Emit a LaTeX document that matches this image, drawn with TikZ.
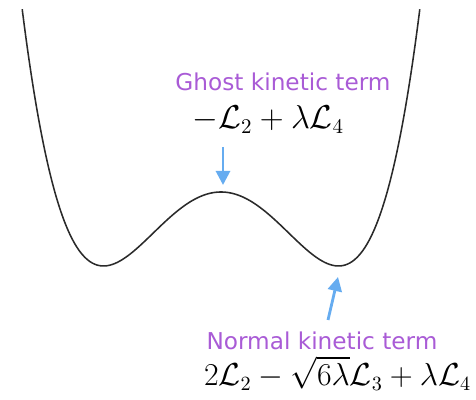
\documentclass[tikz,border=0pt]{standalone}
\usepackage{amsmath}
\usepackage{fontspec}
\setsansfont{DejaVu Sans}
\usetikzlibrary{arrows.meta, positioning}
\definecolor{mPurple}{HTML}{A95BD6}
\definecolor{mSky}{HTML}{66ACF0}
\definecolor{mInk}{HTML}{2A2A2A}

\begin{document}
\begin{tikzpicture}[>={Triangle[length=10pt, width=10pt]},
  declare function={V(\x)=3.35 + 1.85*((((\x-5.525)/2.9375)^2-1)^2);},
  label/.style={text=mPurple, inner sep=0pt, font=\sffamily\fontsize{16.5}{19}\selectfont},
  formula/.style={text=black, inner sep=0pt, font=\fontsize{16}{19}\selectfont,
                  text height=11pt, text depth=4pt, transform shape, scale=#1},
  pointer/.style={->, mSky, line width=2pt}]
  \useasboundingbox (0,0) rectangle (11.9,10);
  % potential
  \draw[line width=1.1pt, mInk, domain=0.555:10.495, samples=160, smooth] plot (\x, {V(\x)});
  % where the arrows land
  \coordinate (peak) at (5.575,5.375);
  \coordinate (vac) at (8.45,3.075);
  \coordinate (vacTail) at (8.2,2.0);
  % ghost side
  \node[label] (ghost) at (7.075,7.95) {Ghost kinetic term};
  \node[formula=1.36] (ghostL) at (6.71,6.95) {$-\mathcal{L}_2+\lambda\mathcal{L}_4$};
  \coordinate (ghostTail) at (5.575,6.325);
  \draw[pointer] (ghostTail) -- (peak);
  % normal side
  \node[label] (normal) at (8.05,1.47) {Normal kinetic term};
  \node[formula=1.31] (normalL) at (8.44,0.52) {$2\mathcal{L}_2-\sqrt{6\lambda}\mathcal{L}_3+\lambda\mathcal{L}_4$};
  \draw[pointer] (vacTail) -- (vac);
\end{tikzpicture}
\end{document}
